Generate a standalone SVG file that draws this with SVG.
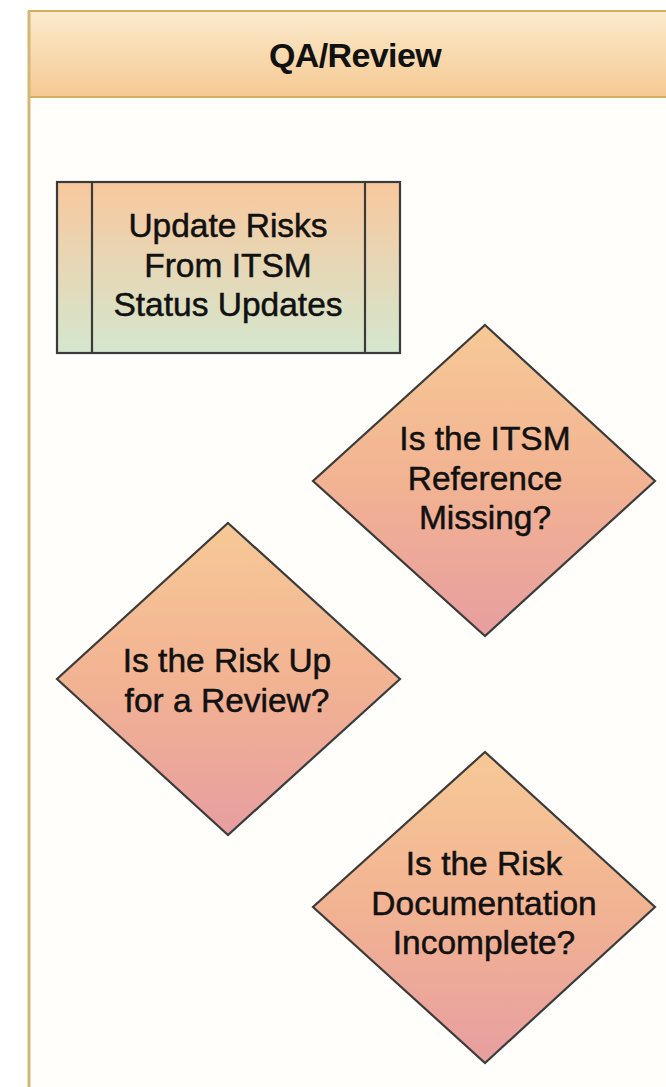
<svg xmlns="http://www.w3.org/2000/svg" width="666" height="1087" viewBox="0 0 666 1087">
<defs>
<linearGradient id="hdr" x1="0" y1="0" x2="0" y2="1">
<stop offset="0" stop-color="#fbebcd"/>
<stop offset="1" stop-color="#f5c992"/>
</linearGradient>
<linearGradient id="box" x1="0" y1="0" x2="0" y2="1">
<stop offset="0" stop-color="#f8c89e"/>
<stop offset="1" stop-color="#d4e7ce"/>
</linearGradient>
<linearGradient id="dia" x1="0" y1="0" x2="0" y2="1">
<stop offset="0" stop-color="#f7c996"/>
<stop offset="0.5" stop-color="#f2b392"/>
<stop offset="1" stop-color="#e79ea0"/>
</linearGradient>
<style>
.shape{stroke:#3b3b3b;stroke-width:2.2;stroke-linejoin:miter}
.lbl{font-family:"Liberation Sans",Arial,sans-serif;font-size:33.5px;fill:#111;stroke:#111;stroke-width:0.5;text-anchor:middle}
.title{font-family:"Liberation Sans",Arial,sans-serif;font-size:34px;font-weight:bold;fill:#111;text-anchor:middle;letter-spacing:-0.6px}
</style>
</defs>
<rect x="0" y="0" width="666" height="1087" fill="#ffffff"/>
<g id="lane">
<rect x="29" y="11" width="660" height="1090" fill="#fffefa"/>
<rect x="29" y="11" width="660" height="86" fill="url(#hdr)" stroke="#d2ae5e" stroke-width="2"/>
<line x1="29" y1="11" x2="29" y2="1087" stroke="#d6b674" stroke-width="3"/>
<text class="title" x="355" y="67">QA/Review</text>
</g>
<g id="connectors"></g>
<g id="update-risks">
<rect class="shape" x="57" y="182" width="343" height="171" fill="url(#box)"/>
<line class="shape" x1="92" y1="182" x2="92" y2="353"/>
<line class="shape" x1="365" y1="182" x2="365" y2="353"/>
<text class="lbl" x="228" y="237">Update Risks</text>
<text class="lbl" x="228" y="277">From ITSM</text>
<text class="lbl" x="228" y="316">Status Updates</text>
</g>
<g id="itsm-missing">
<polygon class="shape" points="485,325 655,481 485,636 313,481" fill="url(#dia)"/>
<text class="lbl" x="485" y="450">Is the ITSM</text>
<text class="lbl" x="485" y="490">Reference</text>
<text class="lbl" x="485" y="529">Missing?</text>
</g>
<g id="risk-review">
<polygon class="shape" points="228,523 400,679 228,835 57,679" fill="url(#dia)"/>
<text class="lbl" x="227" y="672">Is the Risk Up</text>
<text class="lbl" x="227" y="712">for a Review?</text>
</g>
<g id="doc-incomplete">
<polygon class="shape" points="485,752 655,907 485,1063 313,907" fill="url(#dia)"/>
<text class="lbl" x="484" y="875">Is the Risk</text>
<text class="lbl" x="484" y="915">Documentation</text>
<text class="lbl" x="484" y="954">Incomplete?</text>
</g>
</svg>
